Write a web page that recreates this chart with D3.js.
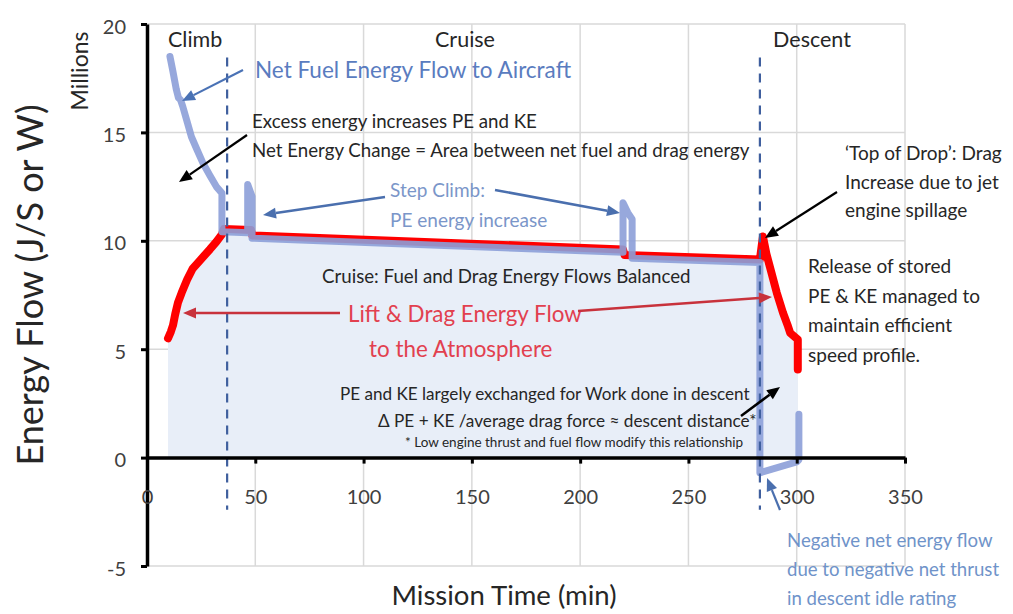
<!DOCTYPE html>
<html>
<head>
<meta charset="utf-8">
<script src="https://cdn.jsdelivr.net/npm/d3@7"></script>
<style>
  body { margin: 0; background: #ffffff; }
  svg { display: block; }
  text { font-family: Lato, "Open Sans", sans-serif; }
</style>
</head>
<body>
<svg id="chart" width="1013" height="614"></svg>
<script>
// Axis ticks
const timeTicks = [0, 50, 100, 150, 200, 250, 300, 350];
const flowTicks = [-5, 0, 5, 10, 15, 20];

// Net fuel energy flow to the aircraft (millions of W) against mission time (min)
const fuelTime = [10.6, 12, 13.5, 14.5, 15.5, 16.5, 18.5, 20.5, 23.1, 26, 29.1, 32, 34.6, 34.6,
                  46.5, 46.5, 48.5, 48.5, 219.8, 219.8, 222, 224, 224, 283, 283, 300, 301, 301];
const fuelFlow = [18.5, 17.8, 17.0, 16.6, 16.5, 16.2, 15.5, 14.8, 14.2, 13.55, 13.0, 12.5, 12.2, 10.42,
                  10.37, 12.6, 12.05, 10.12, 9.47, 11.75, 11.3, 11.0, 9.2, 9.0, -0.7, -0.2, -0.1, 2.0];

// Lift & drag energy flow to the atmosphere (millions of W)
const dragTime = [9.7, 11, 12, 13, 14.3, 16, 18.5, 21, 24.5, 29, 32, 34.6, 35.5, 48, 48.6,
                  219.8, 220.5, 283, 284.4, 286, 287.6, 290.8, 293.6, 296, 297, 300.5, 300.5];
const dragFlow = [5.5, 5.8, 6.1, 6.6, 7.15, 7.6, 8.2, 8.7, 9.1, 9.6, 9.95, 10.3, 10.55, 10.5, 10.25,
                  9.6, 9.35, 9.14, 10.2, 9.4, 8.8, 7.6, 6.7, 6.05, 5.75, 5.45, 4.06];

// Flight phases and the times separating them
const phaseNames = ["Climb", "Cruise", "Descent"];
const phaseBoundaries = [37, 283];

const fuel = fuelTime.map((t, i) => ({ t, v: fuelFlow[i] }));
const drag = dragTime.map((t, i) => ({ t, v: dragFlow[i] }));

const svg = d3.select("#chart");
const x = d3.scaleLinear().domain([0, 350]).range([147, 905]);
const y = d3.scaleLinear().domain([-5, 20]).range([566, 24]);

// Gridlines
const grid = svg.append("g").attr("stroke", "#d9d9d9").attr("stroke-width", 1.5);
grid.selectAll("line.h").data(flowTicks.filter(d => d !== 0)).join("line")
  .attr("x1", x(0)).attr("x2", x(350)).attr("y1", d => y(d)).attr("y2", d => y(d));
grid.selectAll("line.v").data(timeTicks.filter(d => d !== 0)).join("line")
  .attr("x1", d => x(d)).attr("x2", d => x(d)).attr("y1", y(20)).attr("y2", y(-5));

// Shaded energy area beneath the drag flow
svg.append("path").datum(drag)
  .attr("fill", "#e8eef8")
  .attr("d", d3.area().x(d => x(d.t)).y0(y(0)).y1(d => y(d.v)));

// Drag energy flow
svg.append("path").datum(drag)
  .attr("fill", "none").attr("stroke", "#ff0000").attr("stroke-width", 8)
  .attr("stroke-linejoin", "round").attr("stroke-linecap", "round")
  .attr("d", d3.line().x(d => x(d.t)).y(d => y(d.v)));

// Net fuel energy flow
svg.append("path").datum(fuel)
  .attr("fill", "none").attr("stroke", "#8c9fd8").attr("stroke-width", 7)
  .attr("stroke-opacity", 0.9)
  .attr("stroke-linejoin", "round").attr("stroke-linecap", "round")
  .attr("d", d3.line().x(d => x(d.t)).y(d => y(d.v)));

// Phase boundaries
svg.append("g").selectAll("line").data(phaseBoundaries).join("line")
  .attr("x1", d => x(d)).attr("x2", d => x(d))
  .attr("y1", y(18.45)).attr("y2", y(-2.4))
  .attr("stroke", "#3f5f9e").attr("stroke-width", 2.2).attr("stroke-dasharray", "9,7");

// Axes
const plain = d => String(d);
const yAxis = svg.append("g").attr("transform", `translate(${x(0)},0)`)
  .call(d3.axisLeft(y).tickValues(flowTicks).tickFormat(plain)
    .tickSize(6).tickSizeOuter(0).tickPadding(15));
const xAxis = svg.append("g").attr("transform", `translate(0,${y(0)})`)
  .call(d3.axisBottom(x).tickValues(timeTicks).tickFormat(plain)
    .tickSize(6).tickSizeOuter(0).tickPadding(26));
[yAxis, xAxis].forEach(g => {
  g.select(".domain").attr("stroke", "#000").attr("stroke-width", 3.5);
  g.selectAll(".tick line").attr("stroke", "#000").attr("stroke-width", 3);
  g.selectAll(".tick text").attr("fill", "#404040").attr("font-size", 20)
    .attr("font-family", "Lato, sans-serif");
});
yAxis.selectAll(".tick text").attr("dy", "0.45em");

// Axis titles
svg.append("text").attr("transform", "translate(43,285) rotate(-90)")
  .attr("text-anchor", "middle").attr("font-family", "'Open Sans', sans-serif")
  .attr("font-size", 36).attr("fill", "#262626").text("Energy Flow (J/S or W)");
svg.append("text").attr("transform", "translate(88,71) rotate(-90)")
  .attr("text-anchor", "middle").attr("font-size", 23).attr("fill", "#262626").text("Millions");
svg.append("text").attr("x", 504).attr("y", 605).attr("text-anchor", "middle")
  .attr("font-size", 27.5).attr("fill", "#262626").text("Mission Time (min)");

// Phase names
const phaseLabelX = [168, 465, 812];
svg.append("g").selectAll("text").data(phaseNames).join("text")
  .attr("x", (d, i) => phaseLabelX[i]).attr("y", 47)
  .attr("text-anchor", (d, i) => i === 0 ? "start" : "middle")
  .attr("font-size", 21.5).attr("fill", "#262626").text(d => d);

// Annotation text blocks
const notes = [
  { x: 255, y: 78, size: 22.5, color: "#5a7cbf", lines: ["Net Fuel Energy Flow to Aircraft"] },
  { x: 252, y: 128, size: 18.7, color: "#262626", gap: 29,
    lines: ["Excess energy increases PE and KE", "Net Energy Change = Area between net fuel and drag energy"] },
  { x: 390, y: 197, size: 19, color: "#7b96c9", gap: 30, lines: ["Step Climb:", "PE energy increase"] },
  { x: 322, y: 283, size: 18.7, color: "#262626", lines: ["Cruise: Fuel and Drag Energy Flows Balanced"] },
  { x: 348, y: 322, size: 22.4, color: "#e2404f", lines: ["Lift & Drag Energy Flow"] },
  { x: 369, y: 357, size: 22.4, color: "#e2404f", lines: ["to the Atmosphere"] },
  { x: 340, y: 400, size: 17.1, color: "#262626", lines: ["PE and KE largely exchanged for Work done in descent"] },
  { x: 378, y: 427, size: 17.2, color: "#262626", lines: ["\u0394 PE + KE /average drag force \u2248 descent distance*"] },
  { x: 405, y: 447, size: 13.5, color: "#262626", lines: ["* Low engine thrust and fuel flow modify this relationship"] },
  { x: 845, y: 160, size: 19, color: "#262626", gap: 28.5,
    lines: ["\u2018Top of Drop\u2019: Drag", "Increase due to jet", "engine spillage"] },
  { x: 808, y: 273, size: 19, color: "#262626", gap: 29.7,
    lines: ["Release of stored", "PE & KE managed to", "maintain efficient", "speed profile."] },
  { x: 787, y: 547, size: 18.6, color: "#6f93c9", gap: 29,
    lines: ["Negative net energy flow", "due to negative net thrust", "in descent idle rating"] }
];
notes.forEach(n => {
  const t = svg.append("text").attr("font-size", n.size).attr("fill", n.color);
  n.lines.forEach((line, i) => {
    t.append("tspan").attr("x", n.x).attr("y", n.y + i * (n.gap || 0)).text(line);
  });
});

// Annotation arrows
function arrow(x1, y1, x2, y2, color, width) {
  const a = Math.atan2(y2 - y1, x2 - x1);
  const len = 13, half = 5.5;
  const bx = x2 - len * Math.cos(a), by = y2 - len * Math.sin(a);
  svg.append("line").attr("x1", x1).attr("y1", y1).attr("x2", bx).attr("y2", by)
    .attr("stroke", color).attr("stroke-width", width);
  const px = -Math.sin(a) * half, py = Math.cos(a) * half;
  svg.append("path")
    .attr("d", `M${x2},${y2}L${bx + px},${by + py}L${bx - px},${by - py}Z`)
    .attr("fill", color);
}
arrow(243, 70, 182, 101, "#4a72b5", 2.2);
arrow(247, 135, 179, 182, "#000000", 2.2);
arrow(385, 197, 263, 215, "#4a6fae", 2.5);
arrow(495, 190, 620, 213, "#4a6fae", 2.5);
arrow(340, 313, 183, 313, "#c8323c", 2.5);
arrow(578, 311, 772, 297, "#c8323c", 2.5);
arrow(837, 192, 765, 238, "#000000", 2.2);
arrow(741, 416, 780, 387, "#000000", 2.5);
arrow(780, 510, 767, 478, "#4a6fae", 2.2);
</script>
</body>
</html>
